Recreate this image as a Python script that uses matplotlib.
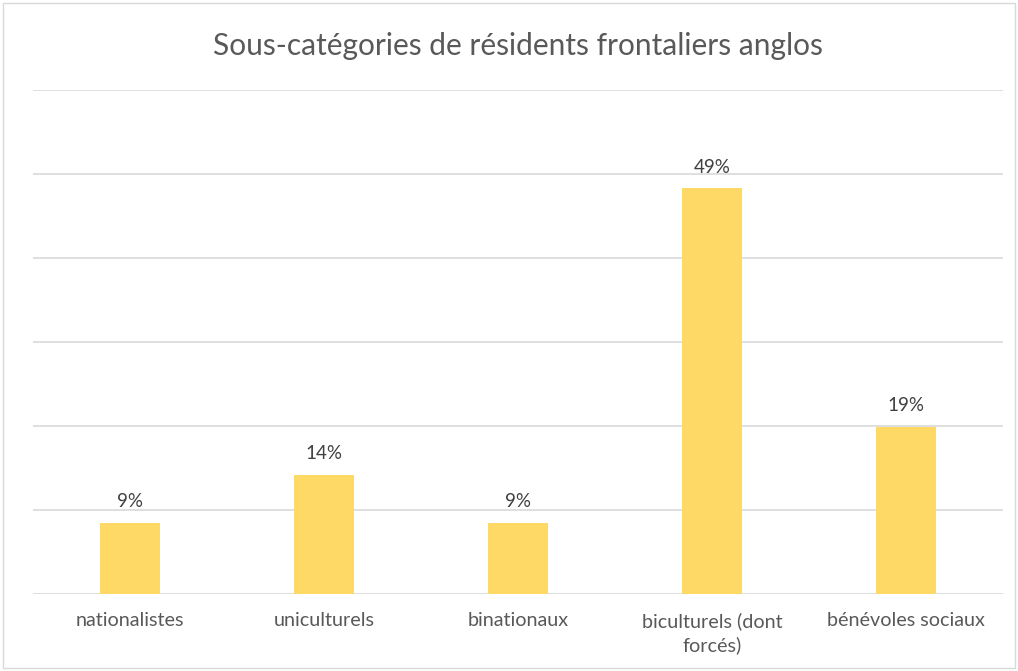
import matplotlib.pyplot as plt
from matplotlib.patches import Rectangle

categories = ['nationalistes', 'uniculturels', 'binationaux', 'biculturels (dont\nforcés)', 'bénévoles sociaux']
values = [8.5, 14.2, 8.5, 48.3, 19.9]
labels = ['9%', '14%', '9%', '49%', '19%']

W, H = 1018, 671
fig = plt.figure(figsize=(W / 100, H / 100), dpi=100)
plt.rcParams['font.family'] = ['Lato', 'DejaVu Sans']

# cadre gris autour du graphique
fig.patches.append(Rectangle((3 / W, 3 / H), (W - 6) / W, (H - 6) / H,
                             transform=fig.transFigure, fill=False,
                             edgecolor='#d9d9d9', linewidth=1))

ax = fig.add_axes([33 / W, 77 / H, 970 / W, 504 / H])
x = range(len(categories))
bars = ax.bar(x, values, width=0.31, color='#FFD966', zorder=3)

ax.set_xlim(-0.5, len(categories) - 0.5)
ax.set_ylim(0, 60)
ax.set_yticks(range(0, 61, 10))
ax.yaxis.grid(True, color='#d9d9d9', linewidth=1.2, zorder=0)
ax.tick_params(axis='y', left=False, labelleft=False)
ax.tick_params(axis='x', length=0, pad=13, labelsize=14.2, labelcolor='#595959')
ax.set_xticks(list(x))
ax.set_xticklabels(categories, linespacing=1.45)
for s in ax.spines.values():
    s.set_visible(False)

for b, lab in zip(bars, labels):
    ax.annotate(lab, (b.get_x() + b.get_width() / 2, b.get_height()),
                xytext=(0, 9), textcoords='offset points',
                ha='center', va='bottom', fontsize=13.5, color='#404040')

fig.text(518 / W, 1 - 46 / H, 'Sous-catégories de résidents frontaliers anglos',
         ha='center', va='center', fontsize=21.5, color='#595959')

fig.savefig('out.png', dpi=100)
